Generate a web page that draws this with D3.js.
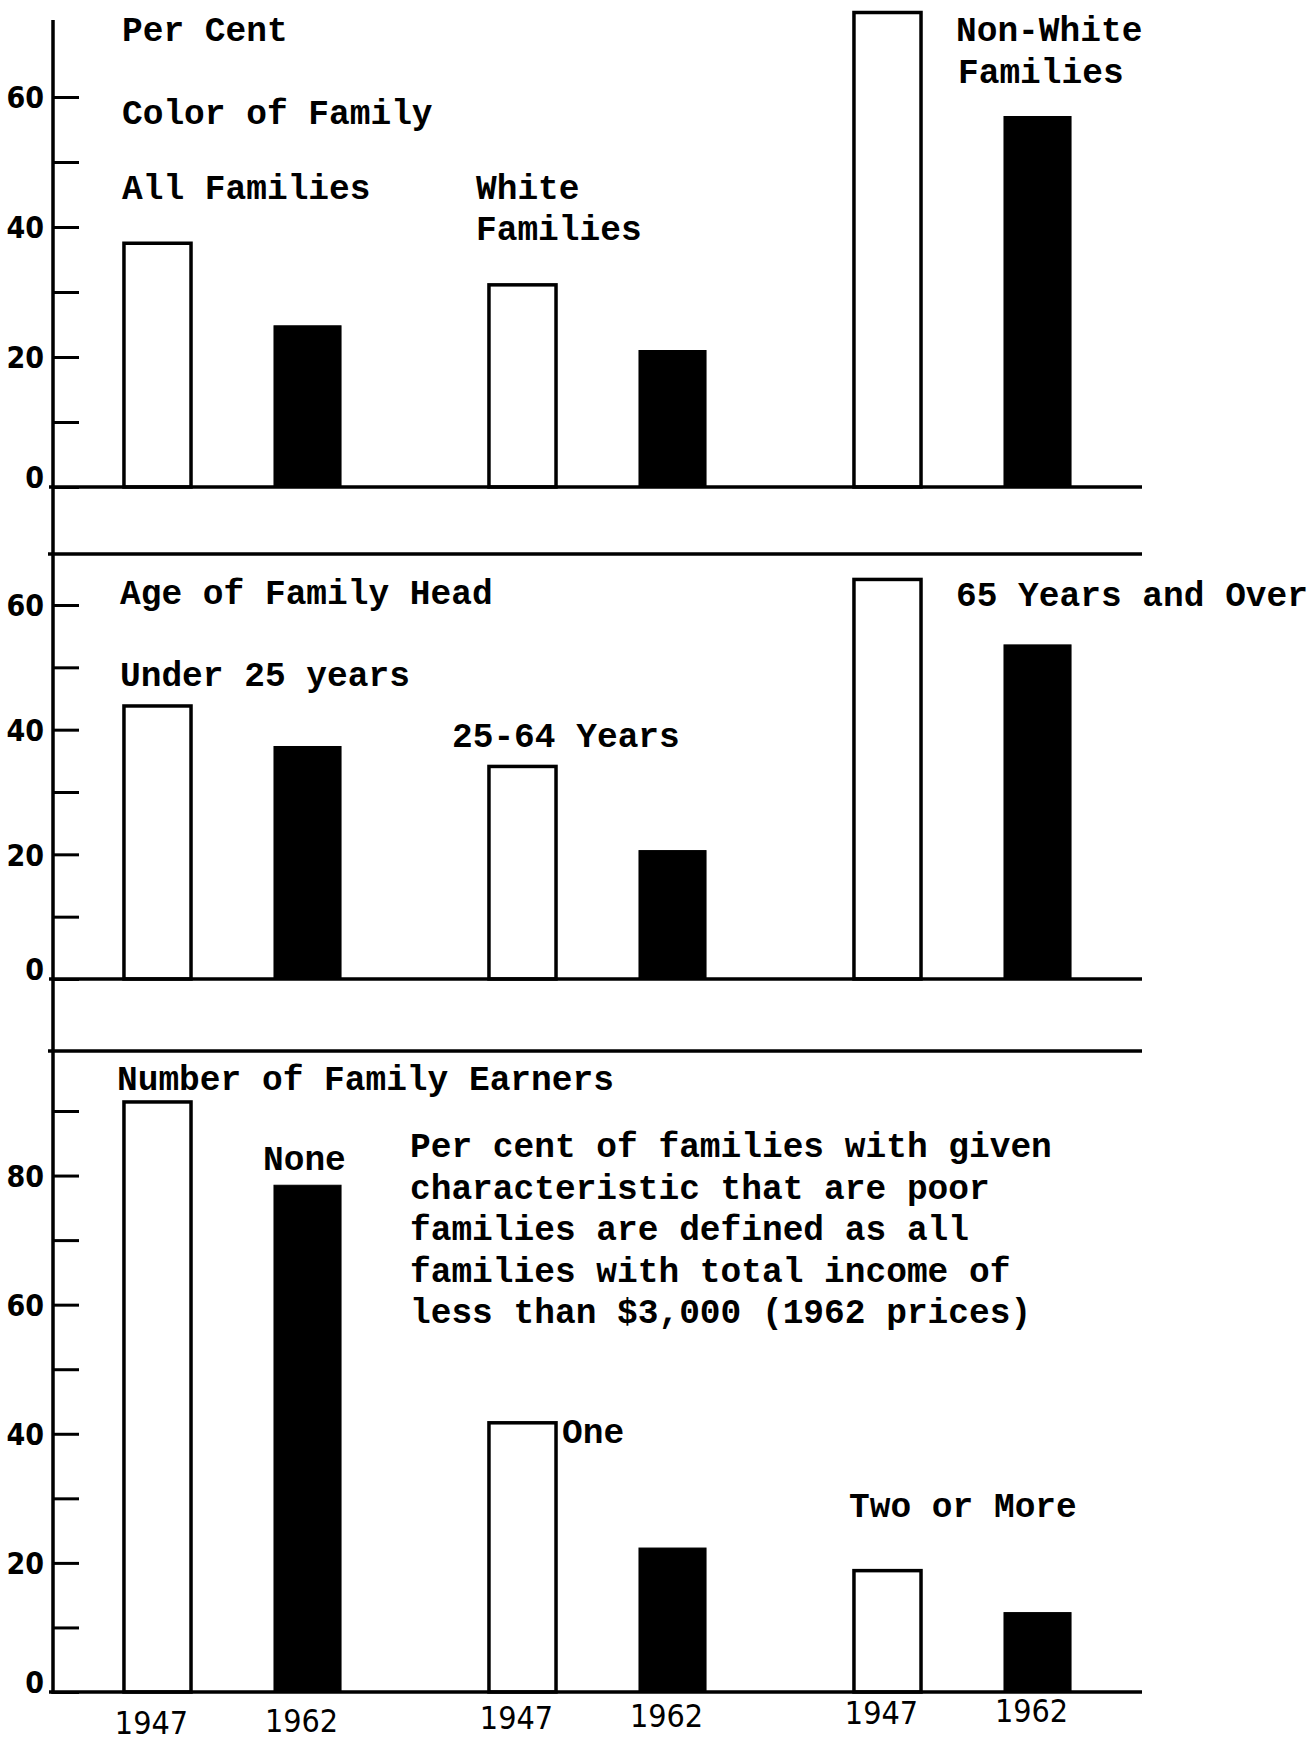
<!DOCTYPE html>
<html><head><meta charset="utf-8">
<script src="https://cdn.jsdelivr.net/npm/d3@7"></script>
<style>body{margin:0;background:#fff}</style>
</head><body><svg id="c" width="1316" height="1742"></svg>
<script>
// ---- data ----
const years = ["1947", "1962"];
const colorGroups = ["All Families", "White Families", "Non-White Families"];
const color1947 = [37.5, 31.1, 73.0];
const color1962 = [24.8, 21.0, 57.0];
const ageGroups = ["Under 25 years", "25-64 Years", "65 Years and Over"];
const age1947 = [43.8, 34.1, 64.1];
const age1962 = [37.3, 20.6, 53.6];
const earnerGroups = ["None", "One", "Two or More"];
const earners1947 = [91.4, 41.7, 18.8];
const earners1962 = [78.5, 22.3, 12.3];
const ticks60 = [0, 10, 20, 30, 40, 50, 60];
const labels60 = [0, 20, 40, 60];
const ticks90 = [0, 10, 20, 30, 40, 50, 60, 70, 80, 90];
const labels90 = [0, 20, 40, 60, 80];
const noteLines = ["Per cent of families with given", "characteristic that are poor",
  "families are defined as all", "families with total income of",
  "less than $3,000 (1962 prices)"];

// ---- layout ----
const svg = d3.select("#c");
svg.append("rect").attr("width", 1316).attr("height", 1742).attr("fill", "#fff");
const AX = 53, RIGHT = 1142;
const MONO = "'Liberation Mono', 'Courier New', monospace";
const NUMF = "'DejaVu Sans', sans-serif";

const outer = d3.scaleBand().domain([0, 1, 2]).range([50, 1145]);
const inner = d3.scaleBand().domain(years).range([0, outer.bandwidth()])
  .paddingInner(0.553).paddingOuter(0.493);

const panels = [
  { groups: colorGroups, v: [color1947, color1962], max: 60, range: [487, 97], ticks: ticks60, labels: labels60 },
  { groups: ageGroups, v: [age1947, age1962], max: 60, range: [979, 605], ticks: ticks60, labels: labels60 },
  { groups: earnerGroups, v: [earners1947, earners1962], max: 90, range: [1692, 1111], ticks: ticks90, labels: labels90 }
];

panels.forEach(p => {
  const y = d3.scaleLinear().domain([0, p.max]).range(p.range);
  p.y = y;
  const g = svg.append("g");
  p.groups.forEach((grp, i) => {
    years.forEach((yr, j) => {
      const val = p.v[j][i];
      g.append("rect")
        .attr("x", outer(i) + inner(yr))
        .attr("y", y(val))
        .attr("width", inner.bandwidth())
        .attr("height", y(0) - y(val))
        .attr("fill", j === 0 ? "#fff" : "#000")
        .attr("stroke", "#000")
        .attr("stroke-width", j === 0 ? 3.5 : 1);
    });
  });
  // zero line
  svg.append("line").attr("x1", AX - 4).attr("x2", RIGHT)
    .attr("y1", y(0)).attr("y2", y(0))
    .attr("stroke", "#000").attr("stroke-width", 3.5);
  // axis
  const ax = svg.append("g").attr("transform", `translate(${AX},0)`)
    .call(d3.axisLeft(y).tickValues(p.ticks).tickSizeInner(-26).tickSizeOuter(0)
      .tickPadding(9).tickFormat(d => p.labels.includes(d) ? d : ""));
  ax.select(".domain").remove();
  ax.selectAll(".tick line").attr("stroke", "#000").attr("stroke-width", 3);
  ax.selectAll(".tick text").attr("font-family", NUMF).attr("font-size", 30)
    .attr("font-stretch", "condensed").attr("font-weight", "bold").attr("fill", "#000")
    .attr("dy", d => d === 0 ? "0.02em" : "0.36em");
});

// separators
[554, 1051].forEach(yy => svg.append("line").attr("x1", AX - 5).attr("x2", RIGHT)
  .attr("y1", yy).attr("y2", yy).attr("stroke", "#000").attr("stroke-width", 3.5));
// vertical axis line
svg.append("line").attr("x1", AX).attr("x2", AX).attr("y1", 20).attr("y2", 1694)
  .attr("stroke", "#000").attr("stroke-width", 3.5);

// ---- texts ----
function txt(s, x, y, size) {
  svg.append("text").attr("x", x).attr("y", y).text(s)
    .attr("font-family", MONO).attr("font-size", size || 34.5)
    .attr("font-weight", "bold").attr("fill", "#000");
}
txt("Per Cent", 122, 41);
txt("Color of Family", 122, 124);
txt("All Families", 122, 199);
txt("White", 476, 199);
txt("Families", 476, 240);
txt("Non-White", 956, 41);
txt("Families", 958, 83);

txt("Age of Family Head", 120, 604);
txt(ageGroups[0], 120, 686);
txt(ageGroups[1], 452, 747);
txt(ageGroups[2], 956, 606);

txt("Number of Family Earners", 117, 1090);
txt(earnerGroups[0], 263, 1170);
txt(earnerGroups[1], outer(1) + inner("1947") + inner.bandwidth() + 6, 1443);
txt(earnerGroups[2], 849, 1517);
noteLines.forEach((s, i) => txt(s, 410, 1157 + i * 41.5));

// year labels under bottom panel
[0, 1, 2].forEach(i => years.forEach((yr, j) => {
  svg.append("text")
    .attr("x", outer(i) + inner(yr) + inner.bandwidth() / 2 - 6)
    .attr("y", 1734 - (i * 2 + j) * 2.4)
    .attr("text-anchor", "middle")
    .attr("font-family", NUMF).attr("font-stretch", "condensed")
    .attr("font-size", 32).attr("fill", "#000")
    .text(yr);
}));
</script></body></html>
